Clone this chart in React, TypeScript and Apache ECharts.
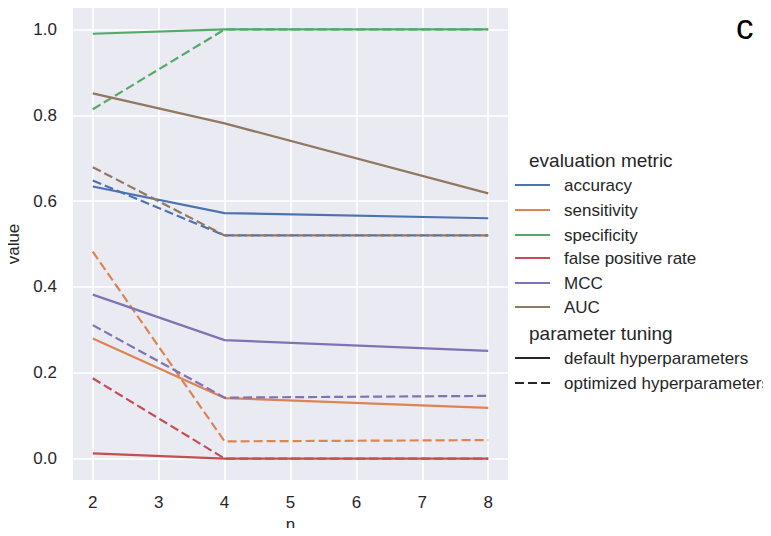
import React, { useEffect, useRef } from "react";
import * as echarts from "echarts";

const nValues = [2, 4, 8];
const xTicks = [2, 3, 4, 5, 6, 7, 8];
const yTicks = [0, 0.2, 0.4, 0.6, 0.8, 1.0];
const metrics = ["accuracy", "sensitivity", "specificity", "false positive rate", "MCC", "AUC"];
const metricColors = ["#4c72b0", "#dd8452", "#55a868", "#c44e52", "#8172b3", "#937860"];
const tuningLabels = ["default hyperparameters", "optimized hyperparameters"];

const accuracyDefault = [0.634, 0.572, 0.56];
const sensitivityDefault = [0.28, 0.141, 0.118];
const specificityDefault = [0.99, 1.0, 1.0];
const fprDefault = [0.012, 0.0, 0.0];
const mccDefault = [0.382, 0.276, 0.251];
const aucDefault = [0.851, 0.781, 0.618];

const accuracyOptimized = [0.648, 0.52, 0.52];
const sensitivityOptimized = [0.482, 0.04, 0.043];
const specificityOptimized = [0.814, 1.0, 1.0];
const fprOptimized = [0.187, 0.0, 0.0];
const mccOptimized = [0.311, 0.142, 0.146];
const aucOptimized = [0.679, 0.52, 0.52];

const defaultValues = [accuracyDefault, sensitivityDefault, specificityDefault, fprDefault, mccDefault, aucDefault];
const optimizedValues = [accuracyOptimized, sensitivityOptimized, specificityOptimized, fprOptimized, mccOptimized, aucOptimized];

const FONT = "'Liberation Sans', Arial, sans-serif";
const TXT = "#262626";
const DASH = [9, 4];

export default function App() {
  const ref = useRef<HTMLDivElement>(null);
  useEffect(() => {
    if (!ref.current) return;
    const chart = echarts.init(ref.current, undefined, { renderer: "svg" });
    const series: any[] = [];
    metrics.forEach((m, i) => {
      [defaultValues[i], optimizedValues[i]].forEach((vals, j) => {
        series.push({
          type: "line",
          name: m + " / " + tuningLabels[j],
          data: nValues.map((n, k) => [n, vals[k]]),
          showSymbol: false,
          symbol: "none",
          lineStyle: { color: metricColors[i], width: 2.2, type: j === 0 ? "solid" : DASH },
          itemStyle: { color: metricColors[i] },
          z: 3,
        });
      });
    });

    const legendX = 515;
    const rowY = [185, 210, 235, 258, 283, 307];
    const graphics: any[] = [
      {
        type: "text",
        x: 529,
        y: 160,
        style: { text: "evaluation metric", font: `19px ${FONT}`, fill: TXT, textVerticalAlign: "middle" },
      },
    ];
    metrics.forEach((m, i) => {
      graphics.push({
        type: "line",
        shape: { x1: legendX, y1: rowY[i], x2: legendX + 35, y2: rowY[i] },
        style: { stroke: metricColors[i], lineWidth: 2.2 },
      });
      graphics.push({
        type: "text",
        x: 564,
        y: rowY[i],
        style: { text: m, font: `17px ${FONT}`, fill: TXT, textVerticalAlign: "middle" },
      });
    });
    graphics.push({
      type: "text",
      x: 529,
      y: 333,
      style: { text: "parameter tuning", font: `19px ${FONT}`, fill: TXT, textVerticalAlign: "middle" },
    });
    const tuneY = [358, 383];
    tuningLabels.forEach((t, j) => {
      graphics.push({
        type: "line",
        shape: { x1: legendX, y1: tuneY[j], x2: legendX + 35, y2: tuneY[j] },
        style: { stroke: "#262626", lineWidth: 2.2, lineDash: j === 0 ? null : DASH },
      });
      graphics.push({
        type: "text",
        x: 564,
        y: tuneY[j],
        style: { text: t, font: `17px ${FONT}`, fill: TXT, textVerticalAlign: "middle" },
      });
    });
    graphics.push({
      type: "text",
      x: 736,
      y: 26,
      style: { text: "c", font: `35px ${FONT}`, fill: "#000", textVerticalAlign: "middle" },
    });

    chart.setOption({
      animation: false,
      backgroundColor: "#ffffff",
      grid: {
        left: 73,
        top: 8,
        width: 435,
        height: 472,
        show: true,
        backgroundColor: "#eaeaf2",
        borderWidth: 0,
        containLabel: false,
        outerBoundsMode: "none",
      },
      xAxis: {
        type: "value",
        min: 1.7,
        max: 8.3,
        name: "n",
        nameLocation: "middle",
        nameGap: 35,
        nameTextStyle: { fontFamily: FONT, fontSize: 17, color: TXT },
        axisLine: { show: false },
        axisTick: { show: false, customValues: xTicks },
        axisLabel: {
          customValues: xTicks,
          fontFamily: FONT,
          fontSize: 17,
          color: TXT,
          margin: 14,
        },
        splitLine: { show: true, lineStyle: { color: "#ffffff", width: 1.5 } },
      },
      yAxis: {
        type: "value",
        min: -0.05,
        max: 1.05,
        name: "value",
        nameLocation: "middle",
        nameGap: 45,
        nameTextStyle: { fontFamily: FONT, fontSize: 17, color: TXT },
        axisLine: { show: false },
        axisTick: { show: false, customValues: yTicks },
        axisLabel: {
          customValues: yTicks,
          fontFamily: FONT,
          fontSize: 17,
          color: TXT,
          margin: 16,
          formatter: (v: number) => v.toFixed(1),
        },
        splitLine: { show: true, lineStyle: { color: "#ffffff", width: 1.5 } },
      },
      series,
      graphic: graphics,
    });
    return () => chart.dispose();
  }, []);
  return <div ref={ref} style={{ width: 771, height: 536, margin: -8 }} />;
}
